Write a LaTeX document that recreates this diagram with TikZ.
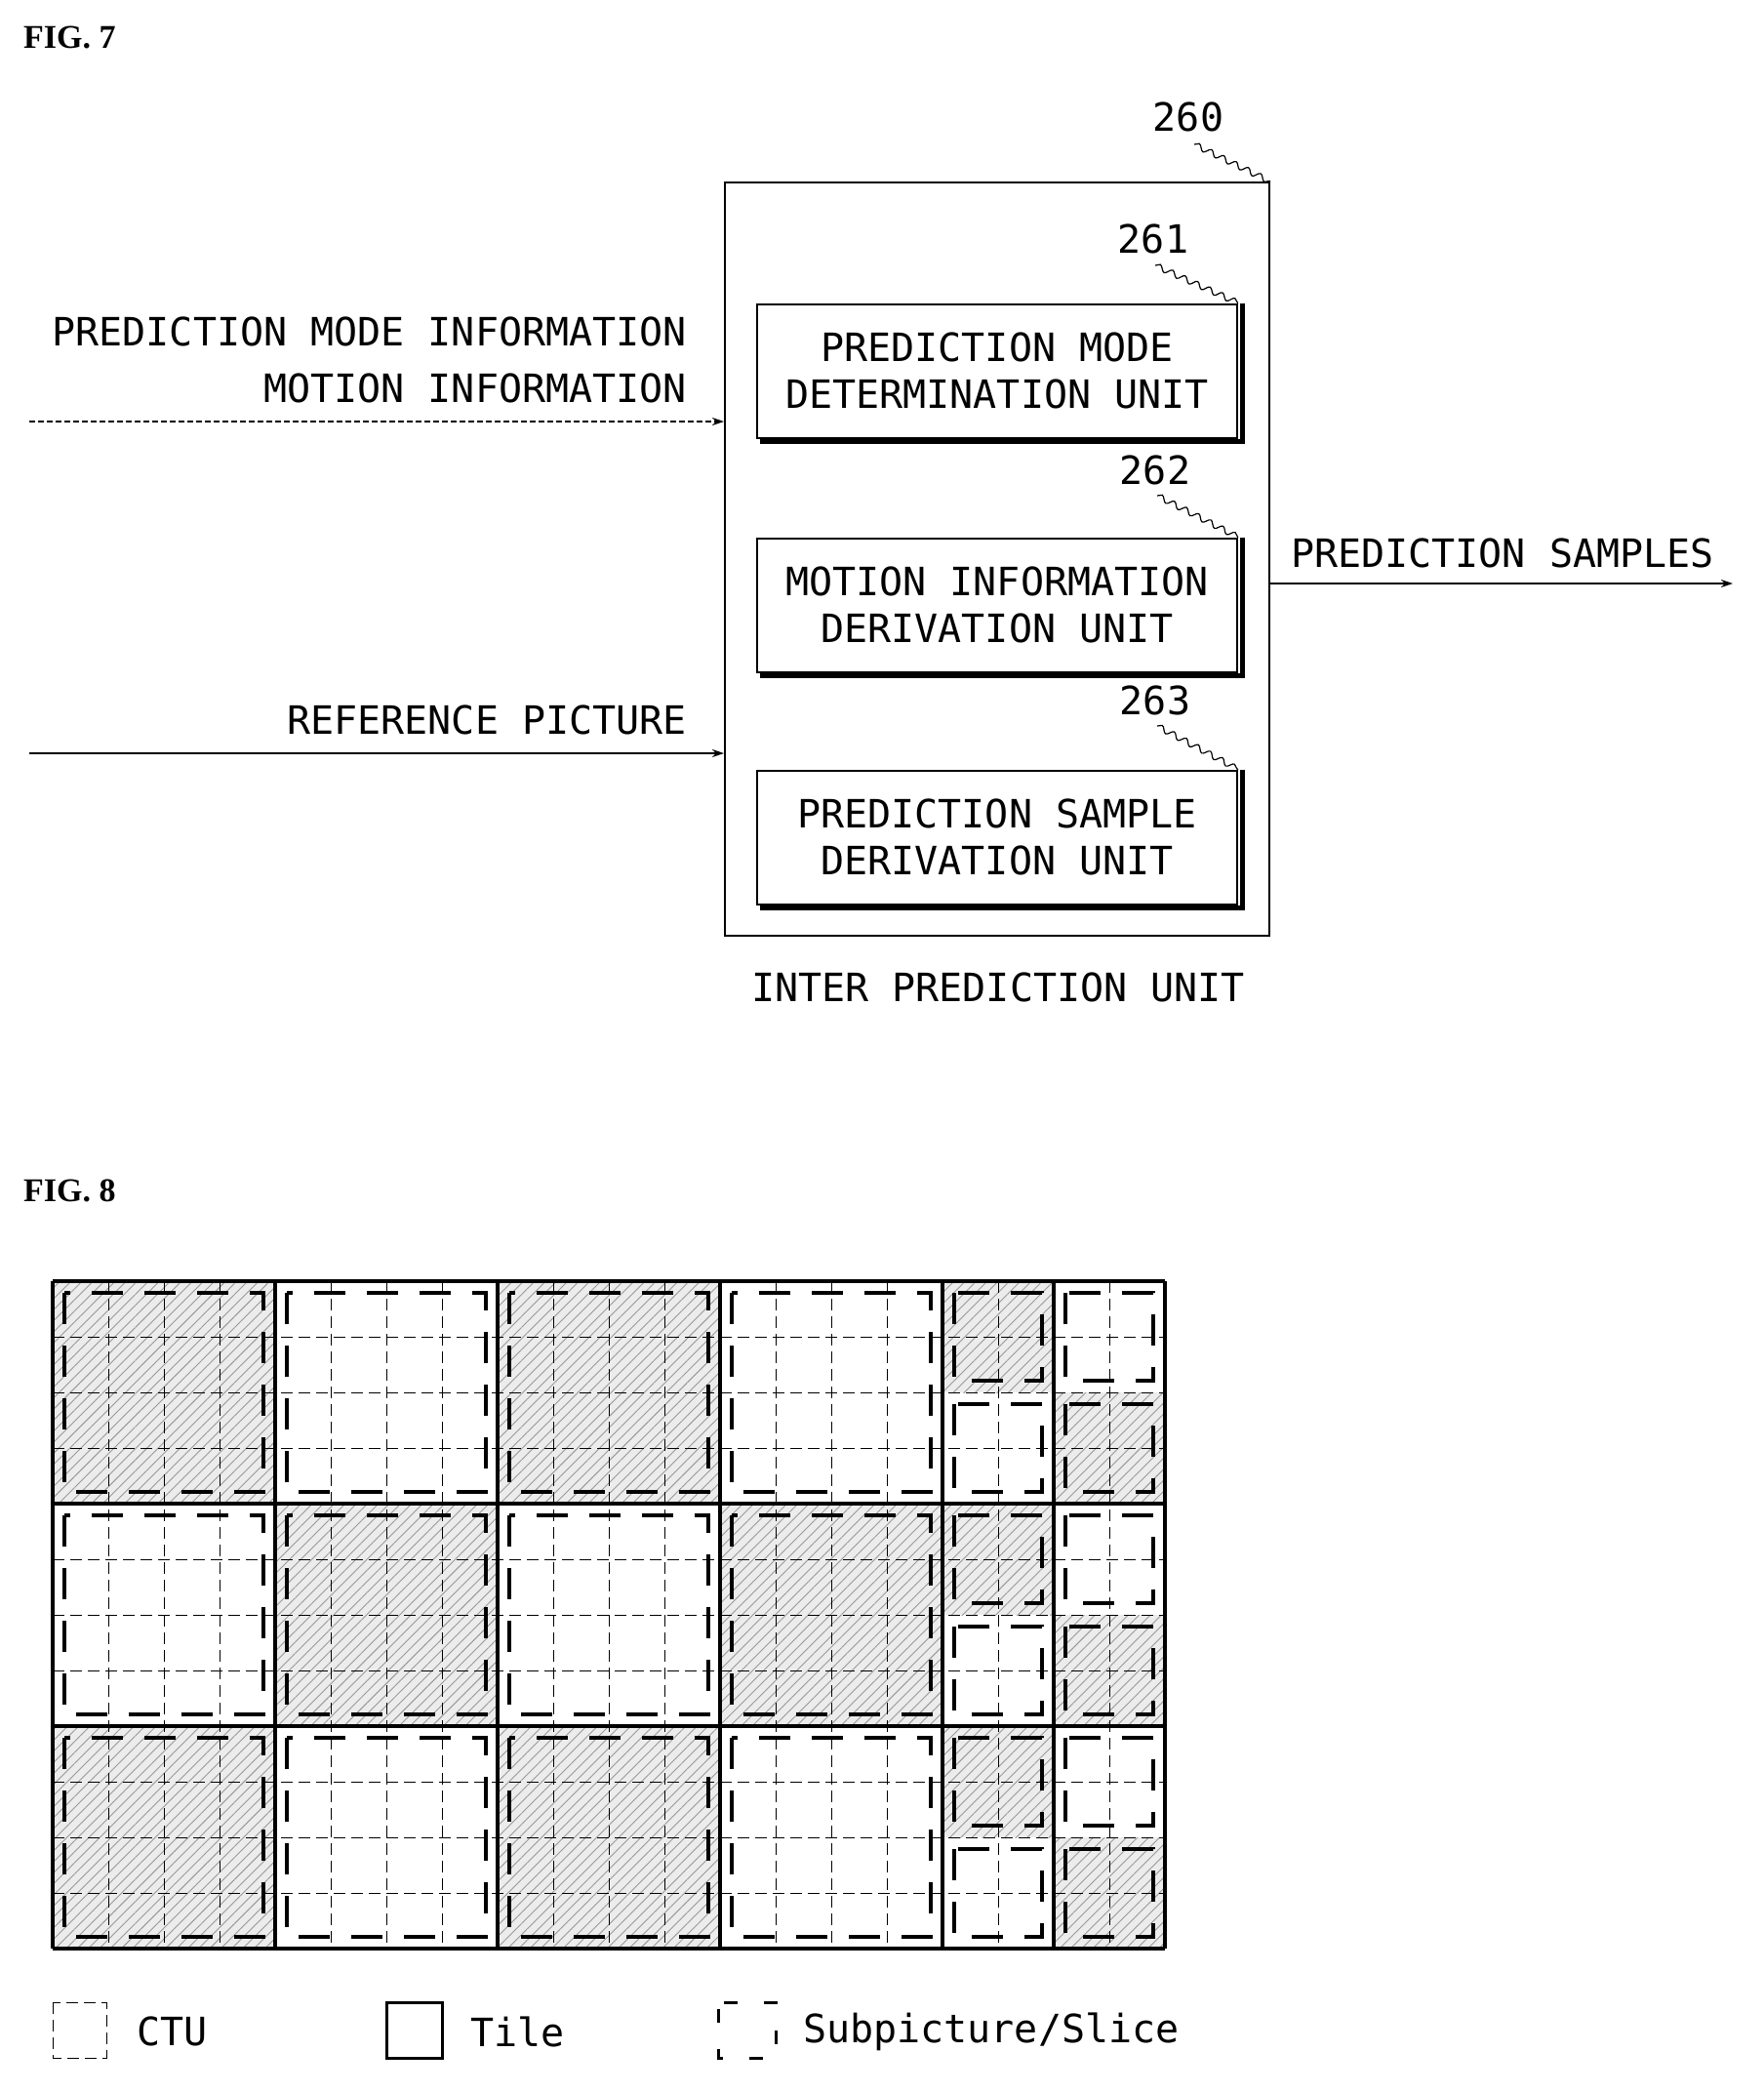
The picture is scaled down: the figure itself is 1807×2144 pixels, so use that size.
\documentclass[tikz,border=0pt]{standalone}
\usepackage{fontspec}
\setmainfont{DejaVu Sans Mono}
\newfontfamily\figfont{Liberation Serif}
\usetikzlibrary{patterns.meta,arrows.meta,decorations.pathmorphing}
\begin{document}
\begin{tikzpicture}[x=1pt,y=1pt,
 txt/.style={font=\fontsize{40}{48}\selectfont, inner sep=0pt},
 num/.style={font=\fontsize{40}{48}\selectfont, inner sep=0pt},
 fig/.style={font=\figfont\bfseries\fontsize{34}{40}\selectfont, inner sep=0pt, anchor=west},
 unit/.style={draw, line width=2pt, minimum width=492pt, minimum height=137pt, align=center, txt, inner sep=0pt},
 shadow/.style={line width=5pt},
 lead/.style={line width=1.2pt, decorate, decoration={snake, amplitude=3pt, segment length=14pt}},
 tile/.style={line width=4pt},
 ctu/.style={line width=1pt, dash pattern=on 12pt off 6pt},
 sub/.style={line width=4pt, dash pattern=on 32pt off 22pt},
 hatch/.style={fill=gray!15, postaction={pattern={Lines[angle=45,distance=8pt,line width=0.9pt]}, pattern color=gray!80}},
 arr/.style={-{Stealth[length=12pt,width=8pt]}, line width=1.5pt}]
\useasboundingbox (0,0) rectangle (1807,-2144);

% ---------- FIG 7 ----------
\node[fig] (f7) at (24,-38) {FIG. 7};
\node[draw, line width=2pt, minimum width=558pt, minimum height=772pt, anchor=north west] (b260) at (742,-186) {};
\node[num] (n260) at (1218,-120) {260};
\draw[lead] (1224,-148) -- (b260.north east);

\node[unit] (u261) at (1022,-380) {PREDICTION MODE\\DETERMINATION UNIT};
\node[unit] (u262) at (1022,-620) {MOTION INFORMATION\\DERIVATION UNIT};
\node[unit] (u263) at (1022,-858) {PREDICTION SAMPLE\\DERIVATION UNIT};
\foreach \u in {u261,u262,u263}{
  \draw[shadow] ([xshift=4pt]\u.north east) -- ([xshift=4pt,yshift=-3pt]\u.south east) -- ([xshift=4pt,yshift=-3pt]\u.south west);
}
\node[num] (n261) at (1182,-245) {261};
\draw[lead] (1184,-272) -- (u261.north east);
\node[num] (n262) at (1184,-482) {262};
\draw[lead] (1186,-508) -- (u262.north east);
\node[num] (n263) at (1184,-718) {263};
\draw[lead] (1186,-744) -- (u263.north east);

\node[txt, anchor=east] (t1) at (704,-340) {PREDICTION MODE INFORMATION};
\node[txt, anchor=east] (t2) at (704,-398) {MOTION INFORMATION};
\coordinate (s1) at (30,-432);
\draw[arr, dash pattern=on 6pt off 3pt] (s1) -- (b260.west |- s1);
\node[txt, anchor=east] (t3) at (704,-738) {REFERENCE PICTURE};
\coordinate (s2) at (30,-772);
\draw[arr] (s2) -- (b260.west |- s2);
\coordinate (e1) at (1776,-598);
\draw[arr] (b260.east |- e1) -- (e1);
\node[txt] (t4) at (1540,-567) {PREDICTION SAMPLES};
\node[txt] (t5) at (1023,-1012) {INTER PREDICTION UNIT};

% ---------- FIG 8 ----------
\node[fig] (f8) at (24,-1220) {FIG. 8};
% shaded regions: x0 y0 w h (in CTU units); grid origin (54,-1313), CTU 57
\def\X{54}\def\Y{-1313}\def\C{57}
\foreach \cx/\cy/\w/\h in {0/0/4/4, 8/0/4/4, 16/0/2/2, 18/2/2/2,
                            4/4/4/4, 12/4/4/4, 16/4/2/2, 18/6/2/2,
                            0/8/4/4, 8/8/4/4, 16/8/2/2, 18/10/2/2}{
  \fill[hatch] (\X+\cx*\C, \Y-\cy*\C) rectangle (\X+\cx*\C+\w*\C, \Y-\cy*\C-\h*\C);
}
% CTU grid
\foreach \i in {1,...,19} \draw[ctu] (\X+\i*\C,\Y) -- (\X+\i*\C,\Y-12*\C);
\foreach \j in {1,...,11} \draw[ctu] (\X,\Y-\j*\C) -- (\X+20*\C,\Y-\j*\C);
% subpictures
\foreach \cx/\cy/\w/\h in {0/0/4/4,4/0/4/4,8/0/4/4,12/0/4/4,16/0/2/2,18/0/2/2,16/2/2/2,18/2/2/2,
                           0/4/4/4,4/4/4/4,8/4/4/4,12/4/4/4,16/4/2/2,18/4/2/2,16/6/2/2,18/6/2/2,
                           0/8/4/4,4/8/4/4,8/8/4/4,12/8/4/4,16/8/2/2,18/8/2/2,16/10/2/2,18/10/2/2}{
  \draw[sub] (\X+\cx*\C+12, \Y-\cy*\C-12) rectangle (\X+\cx*\C+\w*\C-12, \Y-\cy*\C-\h*\C+12);
}
% tiles
\foreach \i in {0,4,8,12,16,18,20} \draw[tile] (\X+\i*\C,\Y) -- (\X+\i*\C,\Y-12*\C);
\foreach \j in {0,4,8,12} \draw[tile] (\X,\Y-\j*\C) -- (\X+20*\C,\Y-\j*\C);

% legend
\draw[ctu] (54,-2052) rectangle (109,-2109);
\node[txt, anchor=west] (l1) at (140,-2082) {CTU};
\draw[line width=3pt] (396,-2052) rectangle (453,-2109);
\node[txt, anchor=west] (l2) at (482,-2082) {Tile};
\draw[line width=3pt, dash pattern=on 14pt off 27pt, dash phase=-7pt] (736,-2052) rectangle (795,-2109);
\node[txt, anchor=west] (l3) at (823,-2082) {Subpicture/Slice};
\end{tikzpicture}
\end{document}
